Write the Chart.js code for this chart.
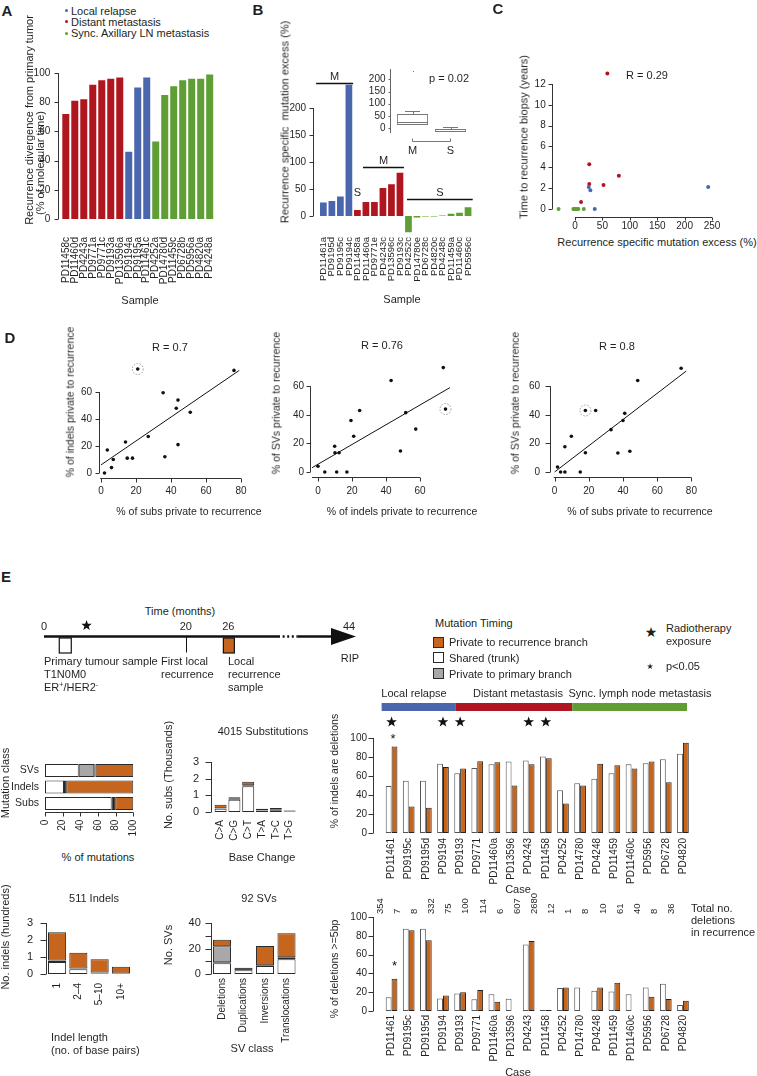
<!DOCTYPE html>
<html><head><meta charset="utf-8"><title>Figure</title>
<script src="https://cdn.jsdelivr.net/npm/chart.js@4.4.1/dist/chart.umd.min.js"></script>
<style>
html,body{margin:0;padding:0;background:#fff;}
#page{position:relative;width:757px;height:1076px;overflow:hidden;font-family:"Liberation Sans",Arial,Helvetica,sans-serif;color:#231f20;}
#page canvas{position:absolute;}
.t{position:absolute;white-space:nowrap;font-size:11px;line-height:1;}
.bx{position:absolute;box-sizing:border-box;border:1.5px solid #2a2a2a;}
</style></head><body><div id="page"></div>
<script>
/* ================= DATA ================= */
// Panel A
const aSamples = ['PD11458c','PD11460d','PD4243a','PD9771a','PD9771c','PD9193a','PD13596a','PD9194a','PD9195a','PD11461c','PD4252a','PD14780d','PD11459c','PD6728b','PD5956a','PD4820a','PD4248a'];
const aGroup = ['D','D','D','D','D','D','D','L','L','L','S','S','S','S','S','S','S'];
const aDivergence = [72,81,82,92,95,96,97,46,90,97,53,85,91,95,96,96,99];
const aLegend = ['Local relapse','Distant metastasis','Sync. Axillary LN metastasis'];

// Panel B
const bSamples = ['PD11461a','PD9195d','PD9195c','PD9194c','PD11458a','PD11460a','PD9771e','PD4243c','PD13596c','PD9193c','PD4252c','PD14780e','PD6728c','PD4820c','PD4248c','PD11459a','PD11460c','PD5956c'];
const bGroup = ['L','L','L','L','D','D','D','D','D','D','S','S','S','S','S','S','S','S'];
const bExcess = [25,28,36,243,11,26,26,52,59,80,-30,-3,-1,-1,1,4,6,16];
const bBoxCats = ['M','S'];
const bBoxLo = [12,-17], bBoxQ1 = [12,-17], bBoxMed = [24,-11], bBoxQ3 = [57,-5], bBoxHi = [69,4];
const bBoxOut = [235,null];
const bPValue = 'p = 0.02';

// Panel C
const cExcess = [11,26,26,52,59,80, 25,28,36,243, -30,-3,-1,-1,1,4,6,16];
const cTime   = [0.66,4.3,2.4,2.3,13,3.2, 2.1,1.8,0,2.1, 0,0,0,0,0,0,0,0];
const cGroup  = ['D','D','D','D','D','D','L','L','L','L','S','S','S','S','S','S','S','S'];
const cR = 'R = 0.29';

// Panel D
const d1SubsX   = [21,76,35.5,44,43,51,27,14,3.6,7,15,18,6,2,36.5,44];
const d1IndelsY = [77,76,59.5,54,48,45,27,23,17,10,11,11,4,0,12,21];
const d1Fit = [[0,6],[79,76]];
const d2IndelsX = [73.7,43,75,24.5,51.6,19.4,57.5,21,9.8,10,12.4,48.5,0,4,11,17];
const d2SVsY    = [73,64,44,43,41.5,36,30,25,18,13.5,13.5,14.7,4,0,0,0];
const d2Fit = [[-3.5,3],[77.6,59]];
const d3SubsX   = [74,48.6,18,24,41,40,33,9.8,6,18,37,44,1.7,3.5,6,15];
const d3SVsY    = [72.5,64,43,43,41,36,29.6,25,17.7,13.5,13.3,14.5,3.5,0,0,0];
const d3Fit = [[0,0],[77,70.6]];
const dCircled = [0,2,2];
const dR = ['R = 0.7','R = 0.76','R = 0.8'];

// Panel E timeline (months)
const tlTicks = [0,20,26,44];
const tlPrimarySample = 3, tlRadiotherapy = 6, tlFirstRecurrence = 20, tlRecurrenceSample = 26, tlDeath = 44;
const tlBreak = [33,35.8];

// Panel E mutation class (%)
const mcClasses = ['SVs','Indels','Subs'];
const mcShared  = [38.2,21.5,75.5];
const mcPrimary = [17.6,0,0];
const mcOther   = [1.5,2.5,4];
const mcPrivate = [42.7,76,20.5];

// Substitutions (thousands)
const subTypes   = ['C>A','C>G','C>T','T>A','T>C','T>G'];
const subShared  = [0.2,0.74,1.55,0.07,0.1,0.03];
const subOther   = [0.03,0.05,0.05,0.04,0.04,0.05];
const subPrivate = [0.2,0.1,0.22,0.09,0.1,0.02];

// Indels (hundreds)
const indelLen     = ['1','2\u20134','5\u201310','10+'];
const indelShared  = [0.7,0.28,0.03,0];
const indelOther   = [0.1,0.05,0.06,0.03];
const indelPrivate = [1.65,0.92,0.78,0.4];

// SVs (count)
const svClasses = ['Deletions','Duplications','Inversions','Translocations'];
const svShared  = [8.5,3,6.3,11.5];
const svOther   = [0.8,2,0.5,1.7];
const svPrimary = [12.5,0,0,0];
const svPrivate = [5,0,15.2,18.8];

// Per-case deletion analysis
const eCases = ['PD11461','PD9195c','PD9195d','PD9194','PD9193','PD9771','PD11460a','PD13596','PD4243','PD11458','PD4252','PD14780','PD4248','PD11459','PD11460c','PD5956','PD6728','PD4820'];
const delShared  = [49.5,55,55,73,63,68.5,72.4,75.3,76.3,80.6,45,52.3,57.2,63,72.4,73.5,77.7,83.4];
const delPrivate = [91,28,26.5,69.6,68,75.6,74.5,50,72.4,78.8,31,50,72.8,71.4,68,75.3,53.4,95];
const del5Shared  = [14.5,87.6,87.6,13.4,18.7,12.4,17.7,13,70.7,1.4,24.4,25,21.6,20.8,17.7,25,29,6.4];
const del5Private = [34.3,85.9,75.3,16.6,20,22.3,9.9,0,74.6,1,25,0,25,30,0,15.2,12.7,11];
const totalDeletions = [354,7,8,332,75,100,114,6,607,2680,12,1,8,10,61,40,8,36];
const radiotherapy = [1,0,0,1,1,0,0,0,1,1,0,0,0,0,0,0,0,0];
const sigDel  = [1,0,0,0,0,0,0,0,0,0,0,0,0,0,0,0,0,0];
const sigDel5 = [1,0,0,0,0,0,0,0,0,0,0,0,0,0,0,0,0,0];
const eGroups = ['Local relapse','Distant metastasis','Sync. lymph node metastasis'];

/* ================= STYLE ================= */
const RED='#B0161F', BLUE='#4A67AD', GREEN='#5E9E34', ORANGE='#C6651D', GREY='#A8A8A8', DARK='#1e1e1e', INK='#231F20', AXC='#333';
const GC = {L:BLUE, D:RED, S:GREEN};
const eGroupColors = [BLUE, RED, GREEN];
const eGroupEdges = [-0.58, 3.75, 10.54, 17.24]; // layout: header bar edges in case-index units
const FONT = '"Liberation Sans", Arial, Helvetica, sans-serif';

Chart.defaults.font.family = FONT;
Chart.defaults.font.size = 10;
Chart.defaults.color = INK;
Chart.defaults.animation = false;
Chart.defaults.responsive = false;
Chart.defaults.maintainAspectRatio = false;
Chart.defaults.devicePixelRatio = 1;
Chart.defaults.events = [];
Chart.defaults.plugins.legend.display = false;
Chart.defaults.plugins.tooltip.enabled = false;

const page = document.getElementById('page');

function T(s, x, y, o) {
  o = o || {};
  const d = document.createElement('div'); d.className = 't'; d.innerHTML = s;
  d.style.left = x + 'px'; d.style.top = y + 'px';
  const ax = o.a === 'l' ? '0' : (o.a === 'r' ? '-100%' : '-50%');
  d.style.transform = 'translate(' + ax + ',-50%)';
  if (o.s) d.style.fontSize = o.s + 'px';
  if (o.b) d.style.fontWeight = 'bold';
  if (o.f) d.style.fontFamily = o.f;
  page.appendChild(d); return d;
}
function V(s, x, y, size) {
  const d = document.createElement('div'); d.className = 't'; d.innerHTML = s;
  d.style.left = x + 'px'; d.style.top = y + 'px';
  d.style.transform = 'translate(-50%,-50%) rotate(-90deg)';
  if (size) d.style.fontSize = size + 'px';
  page.appendChild(d); return d;
}
function star(ctx, cx, cy, R, r) {
  ctx.beginPath();
  for (let i = 0; i < 10; i++) {
    const a = -Math.PI / 2 + i * Math.PI / 5, rad = (i % 2) ? r : R;
    ctx.lineTo(cx + rad * Math.cos(a), cy + rad * Math.sin(a));
  }
  ctx.closePath(); ctx.fill();
}
function drawSpines(chart, list) {
  const ctx = chart.ctx, ca = chart.chartArea;
  list.forEach(sp => {
    const s = chart.scales[sp.scale];
    ctx.strokeStyle = sp.color || AXC; ctx.lineWidth = sp.lw || 1;
    ctx.beginPath();
    const tl = sp.tl || 4;
    if (s.isHorizontal()) {
      const y = Math.round(ca.bottom + (sp.off || 0)) + 0.5;
      ctx.moveTo(s.getPixelForValue(sp.from), y); ctx.lineTo(s.getPixelForValue(sp.to), y);
      (sp.ticks || []).forEach(v => { const x = Math.round(s.getPixelForValue(v)) + 0.5; ctx.moveTo(x, y); ctx.lineTo(x, y + tl); });
    } else {
      const x = Math.round(ca.left + (sp.off || 0)) + 0.5;
      ctx.moveTo(x, s.getPixelForValue(sp.from)); ctx.lineTo(x, s.getPixelForValue(sp.to));
      (sp.ticks || []).forEach(v => { const y = Math.round(s.getPixelForValue(v)) + 0.5; ctx.moveTo(x, y); ctx.lineTo(x - tl, y); });
    }
    ctx.stroke();
  });
}
let chartCount = 0;
function makeChart(g, config) {
  const padL = g.padL || 0, padB = g.padB || 0, topH = g.topH || 0, yW = g.yW || 0, xH = g.xH || 0;
  const padT = Math.max(g.padT || 0, 30), padR = Math.max(g.padR || 0, 32);
  const leftPx = Math.floor(g.L - yW - padL);
  const yWe = g.L - padL - leftPx;
  const topPx = Math.floor(g.T - topH - padT);
  const padTe = g.T - topH - topPx;
  const w = Math.ceil(g.R + padR - leftPx);
  const padRe = w - (g.R - leftPx);
  const h = Math.ceil(g.B + xH + padB - topPx);
  const xHe = h - padB - (g.B - topPx);
  const cv = document.createElement('canvas');
  cv.width = w; cv.height = h;
  cv.style.left = leftPx + 'px'; cv.style.top = topPx + 'px';
  cv.style.width = w + 'px'; cv.style.height = h + 'px';
  page.appendChild(cv);
  config.options = config.options || {};
  config.options.layout = {padding: {left: padL, top: padTe, right: padRe, bottom: padB}};
  const sc = config.options.scales || {};
  Object.keys(sc).forEach(k => {
    const role = sc[k].fitRole;
    if (role === 'y') sc[k].afterFit = s => { s.width = yWe; };
    else if (role === 'x') sc[k].afterFit = s => { s.height = xHe; };
    else if (role === 'top') sc[k].afterFit = s => { s.height = topH; };
  });
  const id = 'deco' + (chartCount++);
  config.plugins = [{
    id: id,
    afterDraw(chart) {
      const ctx = chart.ctx;
      ctx.save(); drawSpines(chart, g.spines || []); ctx.restore();
      if (g.draw) { ctx.save(); g.draw(chart, ctx, chart.chartArea); ctx.restore(); }
    }
  }];
  return new Chart(cv, config);
}
function yLin(min, max, ticks, pad, fs) {
  return {type: 'linear', min: min, max: max, fitRole: 'y', grid: {display: false, drawTicks: false}, border: {display: false},
    ticks: {padding: pad, font: {size: fs || 10}, color: INK},
    afterBuildTicks: s => { s.ticks = ticks.map(v => ({value: v})); }};
}
function xLin(min, max, ticks, pad, fs, rot) {
  return {type: 'linear', min: min, max: max, fitRole: 'x', grid: {display: false, drawTicks: false}, border: {display: false},
    ticks: {padding: pad, font: {size: fs || 10}, color: INK, minRotation: rot || 0, maxRotation: rot || 0},
    afterBuildTicks: s => { s.ticks = ticks.map(v => ({value: v})); }};
}
function xCat(pad, fs, rot) {
  rot = (rot === undefined) ? 90 : rot;
  return {type: 'category', fitRole: 'x', grid: {display: false, drawTicks: false}, border: {display: false},
    ticks: {padding: pad, autoSkip: false, minRotation: rot, maxRotation: rot, font: {size: fs || 10}, color: INK}};
}
function yCat(pad, fs) {
  return {type: 'category', fitRole: 'y', grid: {display: false, drawTicks: false}, border: {display: false},
    ticks: {padding: pad, autoSkip: false, font: {size: fs || 10}, color: INK}};
}

/* ================= PANEL A ================= */
T('A', 7, 10, {s: 15, b: true});
aLegend.forEach((s, i) => {
  const dot = document.createElement('div');
  dot.style.cssText = 'position:absolute;width:3px;height:3px;border-radius:50%;left:65px;top:' + (9 + i * 11.3) + 'px;background:' + [BLUE, RED, GREEN][i];
  page.appendChild(dot);
  T(s, 71, 10.5 + i * 11.3, {a: 'l', s: 11});
});
makeChart({L: 61.3, T: 73, R: 214.2, B: 219, yW: 40, xH: 75, padT: 8, padR: 6,
  spines: [{scale: 'y', off: -3.3, from: 0, to: 100, ticks: [0,20,40,60,80,100], tl: 4}]},
  {type: 'bar', data: {labels: aSamples, datasets: [{data: aDivergence, backgroundColor: aGroup.map(c => GC[c]), borderWidth: 0, barPercentage: 0.78, categoryPercentage: 1}]},
   options: {scales: {x: xCat(18, 10), y: yLin(0, 100, [0,20,40,60,80,100], 11, 10)}}});
V('Recurrence divergence from primary tumor', 29, 120, 11);
V('(% of molecular time)', 40, 163, 11);
T('Sample', 140, 300, {s: 11});

/* ================= PANEL B ================= */
T('B', 258, 9, {s: 15, b: true});
const bMarks = [{from: -0.85, to: 3.5, y: 246, label: 'M'}, {from: 4.66, to: 9.47, y: 90.7, label: 'M'}, {from: 9.83, to: 17.55, y: 31.5, label: 'S'}];
makeChart({L: 319.1, T: 81, R: 472.3, B: 234.9, yW: 30, xH: 58, padT: 8, padR: 4,
  spines: [{scale: 'y', off: -6.1, from: 0, to: 200, ticks: [0,50,100,150,200], tl: 4}],
  draw: (ch, ctx, ca) => {
    const xs = ch.scales.x, ys = ch.scales.y;
    ctx.strokeStyle = '#111'; ctx.lineWidth = 1.3; ctx.fillStyle = INK;
    ctx.font = '11px ' + FONT; ctx.textAlign = 'center'; ctx.textBaseline = 'middle';
    bMarks.forEach(m => {
      const y = Math.round(ys.getPixelForValue(m.y)) + 0.5;
      const x1 = xs.getPixelForValue(m.from), x2 = xs.getPixelForValue(m.to);
      ctx.beginPath(); ctx.moveTo(x1, y); ctx.lineTo(x2, y); ctx.stroke();
      ctx.fillText(m.label, (x1 + x2) / 2, y - 7);
    });
    ctx.fillText('S', xs.getPixelForValue(4), ys.getPixelForValue(43));
  }},
  {type: 'bar', data: {labels: bSamples, datasets: [{data: bExcess, backgroundColor: bGroup.map(c => GC[c]), borderWidth: 0, barPercentage: 0.79, categoryPercentage: 1}]},
   options: {scales: {x: xCat(2, 9.5), y: yLin(-35, 250, [0,50,100,150,200], 13, 10)}}});
V('Recurrence specific &nbsp;mutation excess (%)', 285, 122, 11);
T('Sample', 402, 299, {s: 11});
// inset boxplot
makeChart({L: 393.5, T: 69, R: 469.5, B: 133, yW: 28, xH: 28, padT: 6, padR: 4,
  spines: [{scale: 'y', off: -3.5, from: -21, to: 243, ticks: [0,50,100,150,200], tl: 2, color: '#666'}],
  draw: (ch, ctx, ca) => {
    const xs = ch.scales.x, ys = ch.scales.y;
    ctx.strokeStyle = '#777'; ctx.lineWidth = 1; ctx.fillStyle = '#777';
    bBoxCats.forEach((c, i) => {
      const cx = xs.getPixelForValue(i), half = 15.5;
      const ym = Math.round(ys.getPixelForValue(bBoxMed[i])) + 0.5;
      const yh = Math.round(ys.getPixelForValue(bBoxHi[i])) + 0.5;
      const y3 = ys.getPixelForValue(bBoxQ3[i]);
      ctx.beginPath();
      ctx.moveTo(cx - half, ym); ctx.lineTo(cx + half, ym);
      ctx.moveTo(Math.round(cx) + 0.5, y3); ctx.lineTo(Math.round(cx) + 0.5, yh);
      ctx.moveTo(cx - 7.5, yh); ctx.lineTo(cx + 7.5, yh);
      ctx.stroke();
      if (bBoxOut[i] !== null) ctx.fillRect(Math.round(cx), Math.round(ys.getPixelForValue(bBoxOut[i])), 1, 1);
    });
    const by = Math.round(ca.bottom + 8) + 0.5;
    const x1 = xs.getPixelForValue(0), x2 = xs.getPixelForValue(1);
    ctx.beginPath(); ctx.moveTo(x1, by - 3); ctx.lineTo(x1, by); ctx.lineTo(x2, by); ctx.lineTo(x2, by - 3); ctx.stroke();
  }},
  {type: 'bar', data: {labels: bBoxCats, datasets: [{data: bBoxQ1.map((q, i) => [q, bBoxQ3[i]]), backgroundColor: '#fff', borderColor: '#777', borderWidth: 1, borderSkipped: false, barPercentage: 0.82, categoryPercentage: 1}]},
   options: {scales: {x: xCat(11.4, 11, 0), y: yLin(-21, 243, [0,50,100,150,200], 8, 10)}}});
T(bPValue, 429, 78, {a: 'l', s: 11});

/* ================= PANEL C ================= */
T('C', 498, 8, {s: 15, b: true});
makeChart({L: 553.1, T: 69.4, R: 717.5, B: 212.1, yW: 25, xH: 22, padT: 8, padR: 14,
  spines: [{scale: 'y', off: -1.1, from: 0, to: 12, ticks: [0,2,4,6,8,10,12], tl: 4},
           {scale: 'x', off: 4.9, from: 0, to: 250, ticks: [0,50,100,150,200,250], tl: 3}]},
  {type: 'scatter', data: {datasets: [{data: cExcess.map((x, i) => ({x: x, y: cTime[i]})), pointBackgroundColor: cGroup.map(c => GC[c]), pointBorderWidth: 0, pointRadius: 2}]},
   options: {scales: {x: xLin(-40, 260, [0,50,100,150,200,250], 7.9, 10), y: yLin(-0.3, 13.4, [0,2,4,6,8,10,12], 7.4, 10)}}});
T(cR, 647, 75, {s: 11});
V('Time to recurrence biopsy (years)', 524, 137, 11);
T('Recurrence specific mutation excess (%)', 657, 242, {s: 11});

/* ================= PANEL D ================= */
T('D', 10, 337, {s: 15, b: true});
function dPanel(g, xs, ys, fit, circ, xMin, xMax, xTicks, yMin, yMax, yPad, xSp) {
  g.spines = [{scale: 'y', off: g.yOff || 0, from: 0, to: 60, ticks: [0,20,40,60], tl: g.tl || 4},
              {scale: 'x', off: g.xOff || 0, from: xSp[0], to: xSp[1], ticks: xTicks, tl: 4}];
  g.draw = (ch, ctx, ca) => {
    const px = ch.scales.x.getPixelForValue(xs[circ]), py = ch.scales.y.getPixelForValue(ys[circ]);
    ctx.strokeStyle = '#9a9a9a'; ctx.lineWidth = 1; ctx.setLineDash([1.5, 1.5]);
    ctx.beginPath(); ctx.arc(px, py, 5.5, 0, Math.PI * 2); ctx.stroke();
  };
  return makeChart(g, {type: 'scatter', data: {datasets: [
      {data: xs.map((x, i) => ({x: x, y: ys[i]})), pointBackgroundColor: '#111', pointBorderWidth: 0, pointRadius: 1.8},
      {data: fit.map(p => ({x: p[0], y: p[1]})), showLine: true, borderColor: '#111', borderWidth: 1, pointRadius: 0}]},
    options: {scales: {x: xLin(xMin, xMax, xTicks, 8, 10), y: yLin(yMin, yMax, [0,20,40,60], yPad, 10)}}});
}
dPanel({L: 99.25, T: 365, R: 244.5, B: 477.05, yW: 30, xH: 24, padT: 8, padR: 10, yOff: -0.25, xOff: 1},
  d1SubsX, d1IndelsY, d1Fit, dCircled[0], -1, 82, [0,20,40,60,80], -3, 80, 7.25, [-0.5, 80]);
dPanel({L: 310, T: 357.6, R: 454, B: 477, yW: 30, xH: 24, padT: 8, padR: 10, yOff: 0, xOff: 0},
  d2IndelsX, d2SVsY, d2Fit, dCircled[1], -4.7, 80, [0,20,40,60], -3.5, 80, 6, [-3.5, 60]);
dPanel({L: 550, T: 357.6, R: 694.8, B: 477, yW: 30, xH: 24, padT: 8, padR: 10, yOff: 0, xOff: 0, tl: 5},
  d3SubsX, d3SVsY, d3Fit, dCircled[2], -2.7, 82, [0,20,40,60,80], -3.5, 80, 10, [-0.5, 80]);
T(dR[0], 170, 347, {s: 11}); T(dR[1], 382, 345, {s: 11}); T(dR[2], 617, 346, {s: 11});
V('% of indels private to recurrence', 70, 402, 10.5);
V('% of SVs private to recurrence', 276, 403, 10.5);
V('% of SVs private to recurrence', 515, 403, 10.5);
T('% of subs private to recurrence', 189, 511, {s: 10.5});
T('% of indels private to recurrence', 402, 511, {s: 10.5});
T('% of subs private to recurrence', 640, 511, {s: 10.5});

/* ================= PANEL E ================= */
T('E', 6, 576, {s: 15, b: true});
T('Time (months)', 180, 611, {s: 11});
makeChart({L: 44, T: 636, R: 356, B: 656, padL: 44, padR: 20, padT: 28, padB: 8},
  {type: 'scatter', data: {datasets: []},
   options: {scales: {x: {type: 'linear', display: false, min: 0, max: 44}, y: {type: 'linear', display: false, min: 0, max: 1}}}});
// timeline drawing uses its own chart's x scale
(function () {
  const ch = Object.values(Chart.instances).slice(-1)[0];
  const ctx = ch.ctx, ca = ch.chartArea, xs = ch.scales.x;
  const x = v => xs.getPixelForValue(v), y0 = Math.round(ca.top) + 0.5;
  ctx.save();
  ctx.strokeStyle = '#111'; ctx.fillStyle = '#111'; ctx.lineWidth = 2.4;
  ctx.beginPath(); ctx.moveTo(x(0), y0); ctx.lineTo(x(tlBreak[0]), y0); ctx.stroke();
  ctx.setLineDash([2, 2.6]); ctx.beginPath(); ctx.moveTo(x(tlBreak[0]), y0); ctx.lineTo(x(tlBreak[1]), y0); ctx.stroke();
  ctx.setLineDash([]); ctx.beginPath(); ctx.moveTo(x(tlBreak[1]), y0); ctx.lineTo(x(tlDeath) - 20, y0); ctx.stroke();
  ctx.beginPath(); ctx.moveTo(x(tlDeath) - 25, y0 - 8.5); ctx.lineTo(x(tlDeath), y0); ctx.lineTo(x(tlDeath) - 25, y0 + 8.5); ctx.closePath(); ctx.fill();
  ctx.lineWidth = 1.2;
  ctx.fillStyle = '#fff'; ctx.fillRect(x(tlPrimarySample) - 6, y0 + 1.5, 12, 15); ctx.strokeRect(x(tlPrimarySample) - 6, y0 + 1.5, 12, 15);
  ctx.fillStyle = ORANGE; ctx.fillRect(x(tlRecurrenceSample) - 5, y0 + 1.5, 11, 15); ctx.strokeRect(x(tlRecurrenceSample) - 5, y0 + 1.5, 11, 15);
  ctx.lineWidth = 1; ctx.beginPath(); ctx.moveTo(Math.round(x(tlFirstRecurrence)) + 0.5, y0); ctx.lineTo(Math.round(x(tlFirstRecurrence)) + 0.5, y0 + 16); ctx.stroke();
  ctx.fillStyle = '#111'; star(ctx, x(tlRadiotherapy), y0 - 11, 5.5, 2.3);
  ctx.font = '11px ' + FONT; ctx.textAlign = 'center'; ctx.textBaseline = 'middle'; ctx.fillStyle = INK;
  tlTicks.forEach(t => ctx.fillText(String(t), x(t) - (t === tlDeath ? 7 : 0), y0 - 9.5));
  ctx.restore();
})();
T('Primary tumour sample', 44, 661, {a: 'l'});
T('T1N0M0', 44, 674, {a: 'l'});
T('ER<span style="font-size:7px;position:relative;top:-4px">+</span>/HER2<span style="font-size:7px;position:relative;top:-4px">-</span>', 44, 687, {a: 'l'});
T('First local', 161, 661, {a: 'l'});
T('recurrence', 161, 674, {a: 'l'});
T('Local', 228, 661, {a: 'l'});
T('recurrence', 228, 674, {a: 'l'});
T('sample', 228, 687, {a: 'l'});
T('RIP', 350, 658);

// legend
T('Mutation Timing', 435, 623, {a: 'l'});
[[ORANGE, 636.5, 'Private to recurrence branch'], ['#fff', 652, 'Shared (trunk)'], [GREY, 668, 'Private to primary branch']].forEach(r => {
  const b = document.createElement('div'); b.className = 'bx';
  b.style.cssText += 'left:433px;top:' + r[1] + 'px;width:11px;height:11px;background:' + r[0] + ';';
  page.appendChild(b);
  T(r[2], 449, r[1] + 5.5, {a: 'l'});
});
T('\u2605', 651, 632, {s: 14, f: '"DejaVu Sans", sans-serif'});
T('Radiotherapy', 666, 628, {a: 'l'});
T('exposure', 666, 641, {a: 'l'});
T('\u2605', 650, 667, {s: 8, f: '"DejaVu Sans", sans-serif'});
T('p&lt;0.05', 666, 666, {a: 'l'});

// group headers
T(eGroups[0], 414, 693); T(eGroups[1], 518, 693); T(eGroups[2], 640, 693);

// % of indels are deletions
const barOpts = {categoryPercentage: 0.683, barPercentage: 1, borderWidth: 1, borderSkipped: false};
makeChart({L: 383, T: 738, R: 691.5, B: 833, yW: 40, xH: 56, padT: 40, padR: 6,
  spines: [{scale: 'y', off: -10, from: 0, to: 100, ticks: [0,20,40,60,80,100], tl: 5}],
  draw: (ch, ctx, ca) => {
    const xs = ch.scales.x;
    for (let i = 0; i < 3; i++) {
      ctx.fillStyle = eGroupColors[i];
      const x1 = xs.getPixelForValue(eGroupEdges[i]), x2 = xs.getPixelForValue(eGroupEdges[i + 1]);
      ctx.fillRect(x1, ca.top - 35, x2 - x1, 8);
    }
    ctx.fillStyle = '#111';
    radiotherapy.forEach((r, i) => { if (r) star(ctx, xs.getPixelForValue(i), ca.top - 16, 5.6, 2.3); });
    ctx.font = '13px ' + FONT; ctx.textAlign = 'center'; ctx.textBaseline = 'middle';
    sigDel.forEach((s, i) => { if (s) ctx.fillText('*', xs.getPixelForValue(i) + 1.5, ca.top + 1); });
  }},
  {type: 'bar', data: {labels: eCases, datasets: [
      Object.assign({data: delShared, backgroundColor: '#fff', borderColor: '#555'}, barOpts),
      Object.assign({data: delPrivate, backgroundColor: ORANGE, borderColor: '#222'}, barOpts)]},
   options: {scales: {x: xCat(5, 10), y: yLin(0, 100, [0,20,40,60,80,100], 16, 10)}}});
V('% of indels are deletions', 334, 771, 10.5);
T('Case', 518, 889, {s: 11});

// % of deletions >=5bp
makeChart({L: 383, T: 917, R: 691.5, B: 1011, yW: 40, xH: 58, padT: 4, topH: 30, padR: 6,
  spines: [{scale: 'y', off: -10, from: 0, to: 100, ticks: [0,20,40,60,80,100], tl: 5}],
  draw: (ch, ctx, ca) => {
    const xs = ch.scales.x;
    ctx.fillStyle = '#111'; ctx.font = '13px ' + FONT; ctx.textAlign = 'center'; ctx.textBaseline = 'middle';
    sigDel5.forEach((s, i) => { if (s) ctx.fillText('*', xs.getPixelForValue(i) + 2.9, ch.scales.y.getPixelForValue(del5Private[i]) - 12); });
  }},
  {type: 'bar', data: {labels: eCases, datasets: [
      Object.assign({data: del5Shared, backgroundColor: '#fff', borderColor: '#555'}, barOpts),
      Object.assign({data: del5Private, backgroundColor: ORANGE, borderColor: '#222'}, barOpts)]},
   options: {scales: {
     x: xCat(4, 10),
     x2: {type: 'category', position: 'top', offset: true, labels: totalDeletions.map(String), fitRole: 'top',
          grid: {display: false, drawTicks: false}, border: {display: false},
          ticks: {padding: 3, autoSkip: false, minRotation: 90, maxRotation: 90, font: {size: 9.5}, color: INK}},
     y: yLin(0, 100, [0,20,40,60,80,100], 16, 10)}}});
V('% of deletions &gt;=5bp', 334, 969, 10.5);
T('Total no.', 691, 908, {a: 'l'});
T('deletions', 691, 920, {a: 'l'});
T('in recurrence', 691, 932, {a: 'l'});
T('Case', 518, 1072, {s: 11});

// Mutation class
const segOpts = {borderWidth: 1, borderColor: '#2a2a2a', borderSkipped: false};
makeChart({L: 45, T: 762.25, R: 133.3, B: 811.75, yW: 35, xH: 30, padT: 8, padR: 8,
  spines: [{scale: 'x', off: 0.3, from: 0, to: 100, ticks: [0,20,40,60,80,100], tl: 4}]},
  {type: 'bar', data: {labels: mcClasses, datasets: [
      Object.assign({data: mcShared, backgroundColor: '#fff'}, segOpts),
      Object.assign({data: mcPrimary, backgroundColor: GREY}, segOpts),
      Object.assign({data: mcOther, backgroundColor: DARK}, segOpts),
      Object.assign({data: mcPrivate, backgroundColor: ORANGE}, segOpts)]},
   options: {indexAxis: 'y', datasets: {bar: {barPercentage: 0.79, categoryPercentage: 1}},
     scales: {x: Object.assign(xLin(0, 100, [0,20,40,60,80,100], 8, 10, 90), {stacked: true}),
              y: Object.assign(yCat(6, 10.5), {stacked: true})}}});
V('Mutation class', 4.5, 783, 11);
T('% of mutations', 98, 857, {s: 11});

// Substitutions
makeChart({L: 213.7, T: 762, R: 296.5, B: 812, yW: 30, xH: 30, padT: 8, padR: 6,
  spines: [{scale: 'y', off: -2.7, from: 0, to: 3, ticks: [0,1,2,3], tl: 6}]},
  {type: 'bar', data: {labels: subTypes, datasets: [
      Object.assign({data: subShared, backgroundColor: '#fff'}, segOpts),
      Object.assign({data: subOther, backgroundColor: DARK}, segOpts),
      Object.assign({data: subPrivate, backgroundColor: ORANGE}, segOpts)]},
   options: {datasets: {bar: {barPercentage: 0.87, categoryPercentage: 1}},
     scales: {x: Object.assign(xCat(8, 10), {stacked: true}), y: Object.assign(yLin(0, 3, [0,1,2,3], 14.7, 11), {stacked: true})}}});
T('4015 Substitutions', 263, 731, {s: 11});
V('No. subs (Thousands)', 168, 775, 11);
T('Base Change', 262, 857, {s: 11});

// Indels
makeChart({L: 46.4, T: 923, R: 131.6, B: 974, yW: 26, xH: 35, padT: 8, padR: 6,
  spines: [{scale: 'y', off: -0.7, from: 0, to: 3, ticks: [0,1,2,3], tl: 6}]},
  {type: 'bar', data: {labels: indelLen, datasets: [
      Object.assign({data: indelShared, backgroundColor: '#fff'}, segOpts),
      Object.assign({data: indelOther, backgroundColor: DARK}, segOpts),
      Object.assign({data: indelPrivate, backgroundColor: ORANGE}, segOpts)]},
   options: {datasets: {bar: {barPercentage: 0.85, categoryPercentage: 1}},
     scales: {x: Object.assign(xCat(9, 10), {stacked: true}), y: Object.assign(yLin(0, 3, [0,1,2,3], 13.4, 11), {stacked: true})}}});
T('511 Indels', 94, 898, {s: 11});
V('No. indels (hundreds)', 5, 937, 11);
T('Indel length', 51, 1037, {a: 'l'});
T('(no. of base pairs)', 51, 1050, {a: 'l'});

// SVs
makeChart({L: 211.25, T: 923, R: 297.25, B: 974, yW: 31, xH: 78, padT: 8, padR: 6,
  spines: [{scale: 'y', off: -0.5, from: 0, to: 40, ticks: [0,10,20,30,40], tl: 6}]},
  {type: 'bar', data: {labels: svClasses, datasets: [
      Object.assign({data: svShared, backgroundColor: '#fff'}, segOpts),
      Object.assign({data: svOther, backgroundColor: DARK}, segOpts),
      Object.assign({data: svPrimary, backgroundColor: GREY}, segOpts),
      Object.assign({data: svPrivate, backgroundColor: ORANGE}, segOpts)]},
   options: {datasets: {bar: {barPercentage: 0.84, categoryPercentage: 1}},
     scales: {x: Object.assign(xCat(4, 10), {stacked: true}), y: Object.assign(yLin(0, 40, [0,10,20,30,40], 10.5, 11), {stacked: true})}}});
T('92 SVs', 259, 898, {s: 11});
V('No. SVs', 168, 945, 11);
T('SV class', 252, 1048, {s: 11});
</script>
</body></html>
